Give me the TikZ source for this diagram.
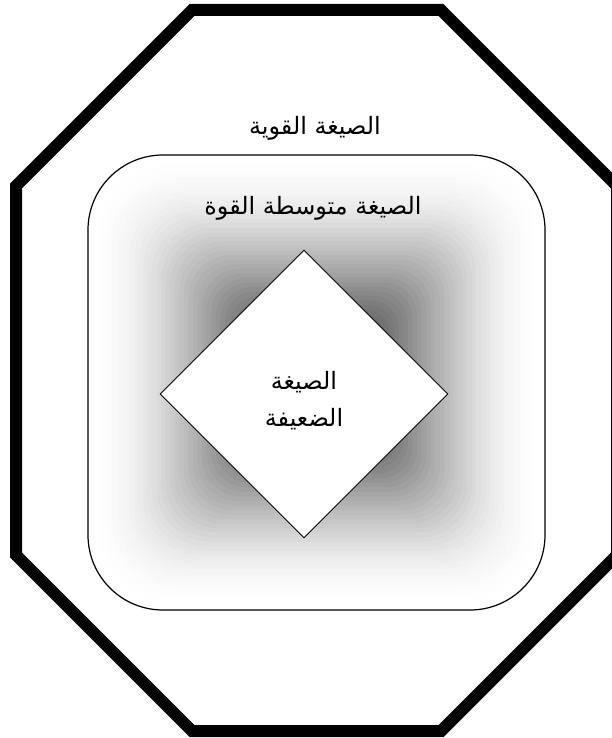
\documentclass[tikz,border=0pt]{standalone}
\usepackage{fontspec}
\newfontfamily\arabicfont[Script=Arabic]{DejaVu Sans}
\TeXXeTstate=1
\usetikzlibrary{shapes.geometric}
\tikzset{
  octa/.style={draw=black, line width=12bp, line join=miter},
  panel/.style={draw=black, line width=1.2bp, rounded corners=75bp},
  weakbox/.style={diamond, draw=black, line width=0.9bp, fill=white,
    minimum width=288bp, minimum height=288bp, inner sep=0pt},
  arlabel/.style={inner sep=0pt, align=center,
    font=\arabicfont\fontsize{24}{37}\selectfont},
  glow/.style={fill=black}
}
\begin{document}
\begin{tikzpicture}[x=1bp,y=-1bp]
\useasboundingbox (0,0) rectangle (612,738);
% outer octagon
\draw[octa] (192,10) -- (441,10) -- (617,186) -- (617,555) -- (441,731)
  -- (192,731) -- (16,555) -- (16,186) -- cycle;
% middle panel with rectangular centre gradient
\fill[white, rounded corners=75bp] (88,155) rectangle (545,610);
\foreach \s in {0.98,0.96,...,0.2} {
  \pgfmathsetmacro\w{228.5*\s}
  \pgfmathsetmacro\v{227.5*\s}
  \pgfmathsetmacro\r{75*\s+0.5}
  \pgfmathsetmacro\a{0.06*(1-\s)}
  \fill[glow, opacity=\a, rounded corners=\r bp] (316.5-\w,382.5-\v) rectangle (316.5+\w,382.5+\v);
}
\node[panel, minimum width=457bp, minimum height=455bp, inner sep=0pt]
  (mid) at (316.5,382.5) {};
% inner diamond
\node[weakbox] (weak) at (304,394) {};
\node[arlabel] (weaktxt) at (304,401) {\beginR الصيغة\endR\\\beginR الضعيفة\endR};
% labels
\node[arlabel] (strongtxt) at (315,128) {\beginR الصيغة القوية\endR};
\node[arlabel] (midtxt) at (313,208) {\beginR الصيغة متوسطة القوة\endR};
\end{tikzpicture}
\end{document}
